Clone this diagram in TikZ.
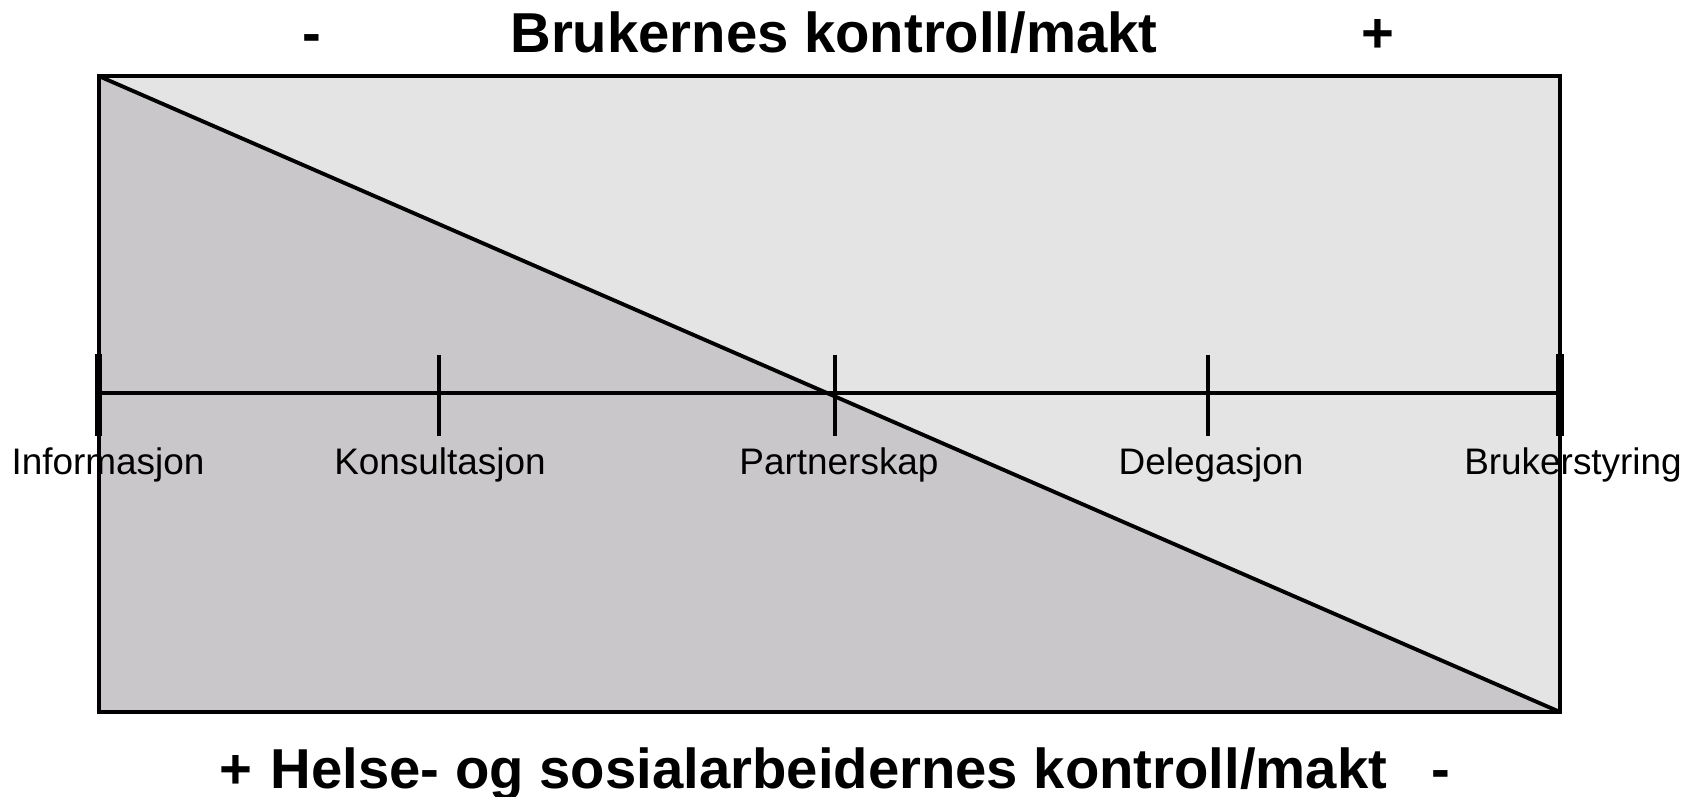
\documentclass[tikz,border=0pt]{standalone}
\usepackage{fontspec}
\setmainfont{Liberation Sans}
\usetikzlibrary{positioning}

\definecolor{lysgraa}{RGB}{228,228,228}
\definecolor{morkgraa}{RGB}{201,199,202}

\tikzset{
  tittel/.style={font=\fontsize{16}{19}\selectfont\bfseries, inner sep=0pt, anchor=base},
  etikett/.style={font=\fontsize{10.5}{12}\selectfont, inner sep=0pt, anchor=base},
  ramme/.style={line width=1.1pt},
  tikk/.style={line width=1.1pt},
  endetikk/.style={line width=2pt}
}

\begin{document}
\begin{tikzpicture}[x=0.01cm,y=-0.01cm]
   \useasboundingbox (0,0) rectangle (1699,797);
   % hjoerner
   \coordinate (nv) at (98.6,76);
   \coordinate (nh) at (1560,76);
   \coordinate (sv) at (98.6,712);
   \coordinate (sh) at (1560,712);
   % skala
   \coordinate (t1) at (98.6,393);
   \coordinate (t2) at (439,393);
   \coordinate (t3) at (835,393);
   \coordinate (t4) at (1208,393);
   \coordinate (t5) at (1560,393);

   \fill[lysgraa] (nv) rectangle (sh);
   \fill[morkgraa] (nv) -- (sh) -- (sv) -- cycle;
   \draw[ramme] (nv) -- (sh);
   \draw[ramme] (nv) rectangle (sh);

   \draw[tikk] (t1) -- (t5);
   \draw[endetikk] ([yshift=0.39cm]t1) -- ([yshift=-0.43cm]t1);
   \draw[tikk] ([yshift=0.38cm]t2) -- ([yshift=-0.43cm]t2);
   \draw[tikk] ([yshift=0.38cm]t3) -- ([yshift=-0.43cm]t3);
   \draw[tikk] ([yshift=0.38cm]t4) -- ([yshift=-0.43cm]t4);
   \draw[endetikk] ([yshift=0.39cm]t5) -- ([yshift=-0.43cm]t5);

   \node[etikett] (info) at (108,474) {Informasjon};
   \node[etikett] (kons) at (440,474) {Konsultasjon};
   \node[etikett] (partner) at (839,474) {Partnerskap};
   \node[etikett] (deleg) at (1211,474) {Delegasjon};
   \node[etikett] (styring) at (1573,474) {Brukerstyring};

   % overskrifter
   \node[tittel] (brukere) at (834,53) {Brukernes kontroll/makt};
   \node[tittel] (minusTopp) at (312,53) {-};
   \node[tittel] (plussTopp) at (1378,53) {+};
   \node[tittel] (helse) at (829,788) {Helse- og sosialarbeidernes kontroll/makt};
   \node[tittel] (plussBunn) at (236,788) {+};
   \node[tittel] (minusBunn) at (1441,788) {-};
\end{tikzpicture}
\end{document}
